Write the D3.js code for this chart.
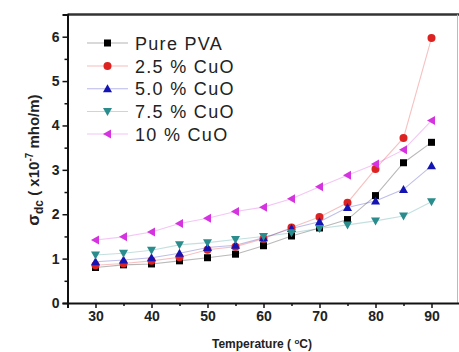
<!DOCTYPE html>
<html><head><meta charset="utf-8">
<script src="https://cdn.jsdelivr.net/npm/d3@7/dist/d3.min.js"></script>
<style>body{margin:0;background:#fff}svg{display:block}text{font-family:"Liberation Sans",Arial,sans-serif}</style>
</head><body><svg id="c" width="459" height="352"></svg>
<script>
const temps = [30,35,40,45,50,55,60,65,70,75,80,85,90];
const seriesNames = ["Pure PVA","2.5 % CuO","5.0 % CuO","7.5 % CuO","10 % CuO"];
const purePVA = [0.80,0.86,0.88,0.95,1.02,1.10,1.29,1.51,1.69,1.88,2.42,3.16,3.62];
const cuo25  = [0.85,0.89,0.95,1.03,1.20,1.27,1.45,1.70,1.94,2.26,3.02,3.72,5.97];
const cuo50  = [0.93,0.97,1.02,1.12,1.25,1.30,1.47,1.68,1.83,2.15,2.30,2.56,3.09];
const cuo75  = [1.08,1.12,1.19,1.31,1.36,1.43,1.50,1.58,1.68,1.76,1.85,1.96,2.28];
const cuo10  = [1.42,1.49,1.60,1.79,1.91,2.06,2.16,2.35,2.62,2.88,3.13,3.45,4.11];
const xTicks = [30,40,50,60,70,80,90];
const yTicks = [0,1,2,3,4,5,6];

const colors = ["#000000","#dd2222","#1414b4","#2a8c8c","#d633e0"];
const values = [purePVA,cuo25,cuo50,cuo75,cuo10];

const svg = d3.select("#c");
const x = d3.scaleLinear().domain([25,95]).range([67.5,459.5]);
const y = d3.scaleLinear().domain([0,6.5]).range([303,14.5]);

function marker(g, k, cx, cy){
  const c = colors[k];
  if (k===0) g.append("rect").attr("x",cx-3.5).attr("y",cy-3.5).attr("width",7).attr("height",7).attr("fill",c);
  else if (k===1) g.append("circle").attr("cx",cx).attr("cy",cy).attr("r",4).attr("fill",c);
  else if (k===2) g.append("path").attr("d",`M${cx},${cy-4.5}L${cx+4.5},${cy+3.5}L${cx-4.5},${cy+3.5}Z`).attr("fill",c);
  else if (k===3) g.append("path").attr("d",`M${cx},${cy+4.5}L${cx+4.5},${cy-3.5}L${cx-4.5},${cy-3.5}Z`).attr("fill",c);
  else g.append("path").attr("d",`M${cx-4.5},${cy}L${cx+3.5},${cy-4.5}L${cx+3.5},${cy+4.5}Z`).attr("fill",c);
}

// frame: top and right
svg.append("line").attr("x1",67.5).attr("x2",459).attr("y1",14.5).attr("y2",14.5).attr("stroke","#333").attr("stroke-width",2.5);
svg.append("line").attr("x1",457.5).attr("x2",457.5).attr("y1",14.5).attr("y2",303).attr("stroke","#bbb").attr("stroke-width",1);

// series
const line = d3.line().x((d,i)=>x(temps[i])).y(d=>y(d));
values.forEach((vals,k)=>{
  svg.append("path").datum(vals).attr("d",line).attr("fill","none")
    .attr("stroke",colors[k]).attr("stroke-opacity",0.28).attr("stroke-width",1.1);
});
values.forEach((vals,k)=>{
  const g = svg.append("g");
  vals.forEach((v,i)=>marker(g,k,x(temps[i]),y(v)));
});

// axes
const xAxis = svg.append("g").attr("transform","translate(0,303)")
  .call(d3.axisBottom(x).tickValues(xTicks).tickSize(5).tickPadding(3).tickFormat(d3.format("d")));
const xMinor = svg.append("g").attr("transform","translate(0,303)")
  .call(d3.axisBottom(x).tickValues([35,45,55,65,75,85]).tickSize(3).tickFormat(""));
const yAxis = svg.append("g").attr("transform","translate(67.5,0)")
  .call(d3.axisLeft(y).tickValues(yTicks).tickSize(5).tickPadding(3).tickFormat(d3.format("d")));
const yMinor = svg.append("g").attr("transform","translate(67.5,0)")
  .call(d3.axisLeft(y).tickValues([0.5,1.5,2.5,3.5,4.5,5.5]).tickSize(3).tickFormat(""));
[xAxis,xMinor,yAxis,yMinor].forEach(a=>{
  a.select(".domain").attr("stroke","#111").attr("stroke-width",2);
  a.selectAll(".tick line").attr("stroke","#111").attr("stroke-width",1.5);
  a.selectAll(".tick text").attr("fill","#222").attr("font-size",14).attr("font-weight","bold");
});
xMinor.select(".domain").remove(); yMinor.select(".domain").remove();

// axis titles
svg.append("text").attr("x",262).attr("y",348).attr("text-anchor","middle")
  .attr("font-size",12).attr("font-weight","bold").attr("fill","#222")
  .html('Temperature ( <tspan dy="-4" font-size="8">o</tspan><tspan dy="4">C)</tspan>');
const yt = svg.append("text").attr("transform","translate(39,160) rotate(-90)").attr("text-anchor","middle")
  .attr("font-size",15).attr("font-weight","bold").attr("fill","#222");
yt.append("tspan").attr("font-size",17).text("σ");
yt.append("tspan").attr("dy",4).attr("font-size",12).text("dc");
yt.append("tspan").attr("dy",-4).text(" ( x10");
yt.append("tspan").attr("dy",-6).attr("font-size",10).text("-7");
yt.append("tspan").attr("dy",6).text(" mho/m)");

// legend
const legY = [43,66,88.7,111.5,134];
seriesNames.forEach((n,k)=>{
  svg.append("line").attr("x1",87).attr("x2",128).attr("y1",legY[k]).attr("y2",legY[k])
    .attr("stroke",colors[k]).attr("stroke-opacity",0.3).attr("stroke-width",1.1);
  marker(svg,k,107.5,legY[k]);
  svg.append("text").attr("x",135).attr("y",legY[k]+6.5).attr("font-size",18)
    .attr("letter-spacing",1.3).attr("fill","#222").text(n);
});
</script></body></html>
